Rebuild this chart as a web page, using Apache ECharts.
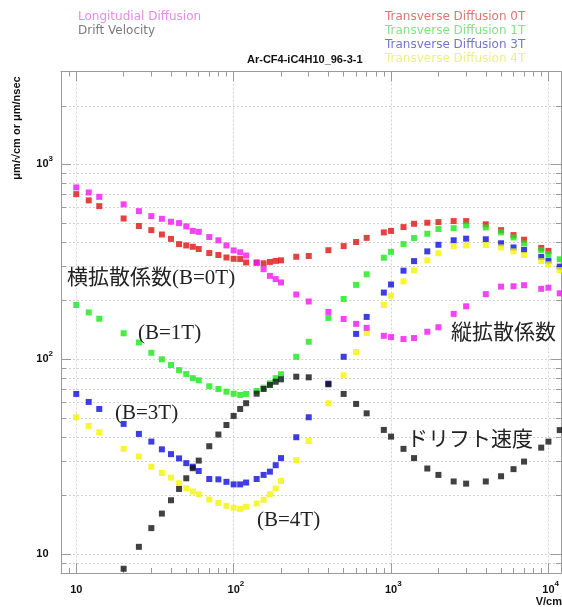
<!DOCTYPE html>
<html>
<head>
<meta charset="utf-8">
<script src="https://cdn.jsdelivr.net/npm/echarts@6/dist/echarts.min.js"></script>
<style>html,body{margin:0;padding:0;background:#fff}#c{width:562px;height:607px}</style>
</head>
<body>
<div id="c"></div>
<script>
// ---- data ----
const fieldVcm = [10,12,14,20,25,30,35,40,45,50,55,60,70,80,90,100,110,120,140,155,170,185,200,250,300,400,500,600,700,900,1000,1200,1400,1700,2000,2500,3000,4000,5000,6000,7000,9000,10000,11800];
const longitudinal = [762,718,682,624,576,543,526,508,500,481,456,451,424,408,384,362,354,341,314,290,268,258,248,215,198,175,161,152,145,132,130,127,128.5,138.5,146,171,187,216,236,237,240,230,233,218];
const transverse0T = [704,654,611,528,483,460,437,415,390,384,378,368,351,343,333,328,327,314,313,311,316,320,322,336,339,363,381,400,420,448,456,477,496,502,506,512,512,493,460,434,411,373,360,null];
const transverse1T = [190,174,161.5,136,122,108,100,93.5,88,84,80,78,72.7,70.4,68.2,66.6,65.6,66.4,68.8,71.5,75.3,80,83.8,103,123,163,204,241,273,332,356,390,419,441,466,471,487,475,448,422,393,363,347,326];
const transverse3T = [66.4,60.4,55.6,46.6,41.4,37.8,34.5,32.6,31.0,29.3,28.1,26.7,24.3,24.2,23.5,22.8,22.8,23.3,24.3,25.5,26.5,28.6,31.1,39.8,50.4,75,103,135,165,220,242,285,319,358,387,408,416,413,394,375,364,335,321,299];
const transverse4T = [50.4,45.5,42.2,34.7,31.7,28.1,26.1,24.7,23.1,21.75,20.95,20.3,19.05,18.3,17.7,17.3,17.07,17.5,18.2,19.0,20.3,21.7,23.7,30.3,38.1,59.5,82.8,109,136.5,190,212,251,286,322,350,380,384,386,375,358,343,319,307,287];
const driftVelocity = [null,null,null,8.41,10.9,13.6,16.15,18.9,21.6,24.5,27.6,30.2,35.8,41.1,46.0,51.2,55.6,59.5,66.6,70.4,73.8,76.7,78.9,81.4,80.8,74.4,66.4,59,52.8,43.4,40.1,34.7,31.1,27.5,25.5,23.6,23.0,23.6,25.1,27.3,29.85,35.2,37.8,43.3];

// ---- tick values ----
const xMajorTicks = [10,100,1000,10000];
const xMinorTicks = [9,20,30,40,50,60,70,80,90,200,300,400,500,600,700,800,900,2000,3000,4000,5000,6000,7000,8000,9000];
const yMajorTicks = [10,100,1000];
const yMinorTicks = [9,10,20,30,40,50,60,70,80,90,100,200,300,400,500,600,700,800,900,1000,2000];

const seriesNames = ['Longitudial Diffusion','Drift Velocity','Transverse Diffusion 0T','Transverse Diffusion 1T','Transverse Diffusion 3T','Transverse Diffusion 4T'];

function pairs(vals){
  const out = [];
  fieldVcm.forEach((x,i)=>{ if(vals[i]!=null) out.push([x, vals[i]]); });
  return out;
}

const LAB_FONT = '"Liberation Sans", Arial, Helvetica, sans-serif';
const FRAME = '#9a9a9a';
const GRID = {show:true, lineStyle:{color:'#d2d2d2', type:[2,2], width:1}};
const supRich = {
  s:{fontSize:8, fontWeight:'bold', fontFamily:LAB_FONT, color:'#111', padding:[0,0,11,0]},
  g:{fontSize:8, fontWeight:'bold', fontFamily:LAB_FONT, color:'transparent', padding:[0,0,11,0]}
};
const XMIN=8, XMAX=12000, YMIN=8, YMAX=3000;

function xAx(pos, ticks, len, extra){
  return Object.assign({
    type:'log', logBase:10, min:XMIN, max:XMAX, position:pos,
    axisLine:{show:false},
    axisTick:{show:true, inside:true, length:len, customValues:ticks, lineStyle:{color:FRAME}},
    axisLabel:{show:false},
    splitLine:{show:false}
  }, extra||{});
}
function yAx(pos, ticks, len, extra){
  return Object.assign({
    type:'log', logBase:10, min:YMIN, max:YMAX, position:pos,
    axisLine:{show:false},
    axisTick:{show:true, inside:true, length:len, customValues:ticks, lineStyle:{color:FRAME}},
    axisLabel:{show:false},
    splitLine:{show:false}
  }, extra||{});
}

const chart = echarts.init(document.getElementById('c'));
const colors = ['#f014f0','#111111','#dd1111','#18e818','#0c0cdc','#f4f400'];
const valueSets = [longitudinal, driftVelocity, transverse0T, transverse1T, transverse3T, transverse4T];
const zOrder = [6,7,2,3,4,5];

const SERIF = '21px "Liberation Serif", "Noto Sans CJK JP", serif';
function ann(text, x, y){
  return {type:'text', x:x, y:y, z:100, style:{text:text, font:SERIF, fill:'#222', verticalAlign:'middle', align:'left'}};
}

chart.setOption({
  animation:false,
  backgroundColor:'#ffffff',
  title:{text:'Ar-CF4-iC4H10_96-3-1', left:247, top:54, padding:0,
    textStyle:{fontSize:11, fontWeight:'bold', fontFamily:LAB_FONT, color:'#111'}},
  legend:[
    {orient:'vertical', left:73, top:10, padding:0, itemGap:0, itemWidth:0, itemHeight:0, icon:'rect', selectedMode:false,
     textStyle:{fontSize:12, fontFamily:'"DejaVu Sans", sans-serif', lineHeight:14},
     data:[{name:seriesNames[0], textStyle:{color:'#e38de3'}},{name:seriesNames[1], textStyle:{color:'#7a7a7a'}}]},
    {orient:'vertical', left:380, top:10, padding:0, itemGap:0, itemWidth:0, itemHeight:0, icon:'rect', selectedMode:false,
     textStyle:{fontSize:12, fontFamily:'"DejaVu Sans", sans-serif', lineHeight:14},
     data:[{name:seriesNames[2], textStyle:{color:'#e07474'}},{name:seriesNames[3], textStyle:{color:'#86e086'}},
           {name:seriesNames[4], textStyle:{color:'#7474cc'}},{name:seriesNames[5], textStyle:{color:'#eeee8a'}}]}
  ],
  grid:{left:61, right:0, top:71.5, bottom:34, containLabel:false},
  xAxis:[
    xAx('bottom', xMajorTicks, 10, {
      axisLine:{show:true, lineStyle:{color:FRAME, width:1}},
      splitLine:GRID,
      axisLabel:{show:true, customValues:xMajorTicks, margin:7, fontSize:11, fontWeight:'bold', fontFamily:LAB_FONT, color:'#111',
        rich:supRich,
        formatter:function(v){ const e=Math.round(Math.log10(v)); return e===1 ? '{g|0}10{g|0}' : '{g|'+e+'}10{s|'+e+'}'; }}
    }),
    xAx('bottom', xMinorTicks, 5),
    xAx('top', xMajorTicks, 10, {axisLine:{show:true, lineStyle:{color:FRAME, width:1}}}),
    xAx('top', xMinorTicks, 5)
  ],
  yAxis:[
    yAx('left', yMajorTicks, 10, {
      axisLine:{show:true, lineStyle:{color:FRAME, width:1}},
      axisLabel:{show:true, customValues:yMajorTicks, margin:8, fontSize:11, fontWeight:'bold', fontFamily:LAB_FONT, color:'#111',
        rich:supRich,
        formatter:function(v){ const e=Math.round(Math.log10(v)); return e===1 ? '10{g|0}' : '10{s|'+e+'}'; }}
    }),
    yAx('left', yMinorTicks, 5, {splitLine:GRID}),
    yAx('right', yMajorTicks, 10, {axisLine:{show:true, lineStyle:{color:FRAME, width:1}}}),
    yAx('right', yMinorTicks, 5)
  ],
  series: seriesNames.map((n,i)=>({
    name:n, type:'scatter', symbol:'rect', symbolSize:6, xAxisIndex:0, yAxisIndex:0,
    itemStyle:{color:colors[i]}, z:zOrder[i], data:pairs(valueSets[i])
  })),
  graphic:[
    {type:'text', x:17, y:128, rotation:Math.PI/2, style:{text:'μm/√cm or μm/nsec', font:'bold 11px '+LAB_FONT, fill:'#111', align:'center', verticalAlign:'middle'}},
    {type:'text', x:562, y:601.5, style:{text:'V/cm', font:'bold 11px '+LAB_FONT, fill:'#111', align:'right', verticalAlign:'middle'}},
    ann('横拡散係数(B=0T)', 67, 278.5),
    ann('(B=1T)', 138, 333),
    ann('(B=3T)', 115, 413),
    ann('(B=4T)', 257, 520.5),
    ann('縦拡散係数', 451, 333),
    ann('ドリフト速度', 407, 440)
  ]
});
</script>
</body>
</html>
